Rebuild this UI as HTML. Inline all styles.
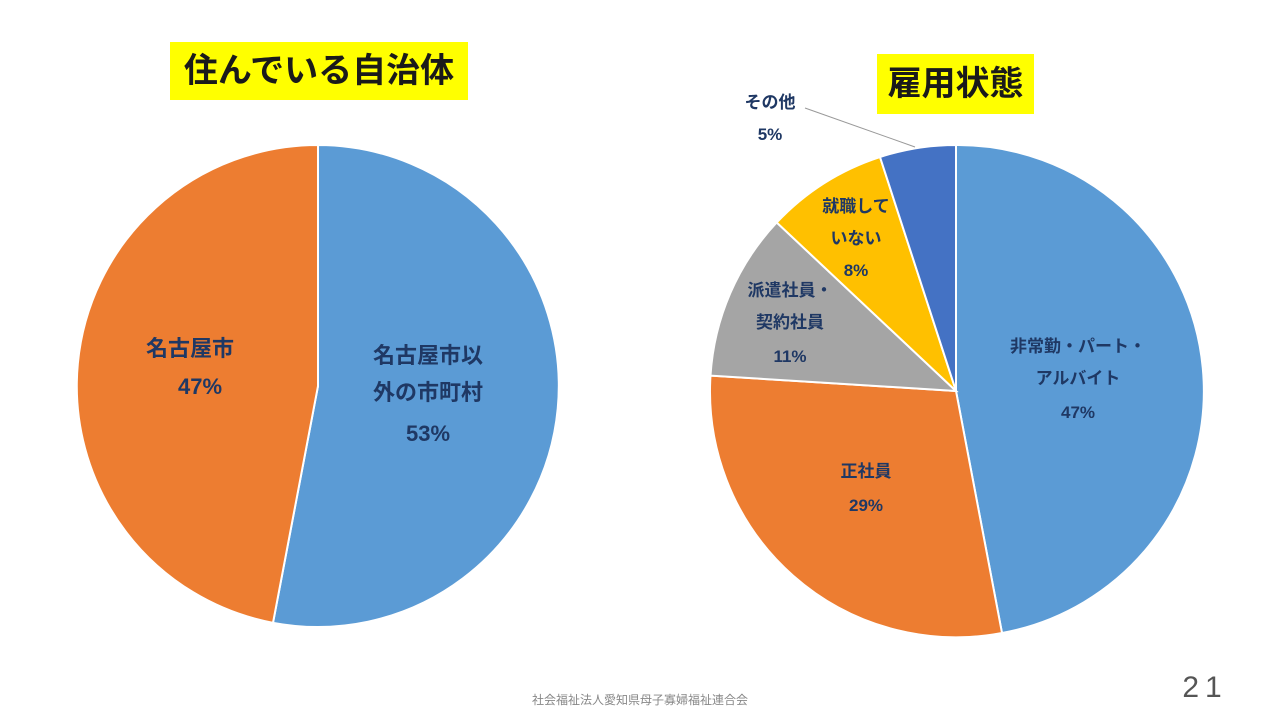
<!DOCTYPE html>
<html><head><meta charset="utf-8"><style>
html,body{margin:0;padding:0;background:#fff;}
body{width:1280px;height:720px;position:relative;overflow:hidden;font-family:"Liberation Sans","Noto Sans CJK JP",sans-serif;}
.t{position:absolute;background:#ffff00;color:#1a1a1a;font-weight:bold;font-size:34px;text-align:center;line-height:58px;white-space:nowrap;}
</style></head><body>
<div class="t" style="left:170px;top:42px;width:298px;height:58px;">住んでいる自治体</div>
<div class="t" style="left:877px;top:54px;width:157px;height:60px;line-height:60px;">雇用状態</div>
<svg width="1280" height="720" style="position:absolute;left:0;top:0" font-family="Liberation Sans, Noto Sans CJK JP, sans-serif" font-weight="bold" fill="#1f3864">
<g stroke="#fff" stroke-width="2">
<path d="M318,386 L318,145 A241,241 0 1 1 273,622.8 Z" fill="#5b9bd5"/>
<path d="M318,386 L273,622.8 A241,241 0 0 1 318,145 Z" fill="#ed7d31"/>
<path d="M956,391 L956,145 A246,246 0 0 1 1002,633 Z" fill="#5b9bd5"/>
<path d="M956,391 L1002,633 A246,246 0 0 1 710.5,375.6 Z" fill="#ed7d31"/>
<path d="M956,391 L710.5,375.6 A246,246 0 0 1 776.7,222.5 Z" fill="#a5a5a5"/>
<path d="M956,391 L776.7,222.5 A246,246 0 0 1 880,157 Z" fill="#ffc000"/>
<path d="M956,391 L880,157 A246,246 0 0 1 956,145 Z" fill="#4472c4"/>
</g>
<line x1="805" y1="108" x2="915" y2="147" stroke="#999" stroke-width="1"/>
<g font-size="22" text-anchor="middle">
<text x="190" y="356">名古屋市</text><text x="200" y="394">47%</text>
<text x="428" y="363">名古屋市以</text><text x="428" y="400">外の市町村</text><text x="428" y="441">53%</text>
</g>
<g font-size="17" text-anchor="middle">
<text x="770" y="108">その他</text><text x="770" y="140">5%</text>
<text x="856" y="212">就職して</text><text x="856" y="244">いない</text><text x="856" y="276">8%</text>
<text x="790" y="296">派遣社員・</text><text x="790" y="328">契約社員</text><text x="790" y="362">11%</text>
<text x="1078" y="352">非常勤・パート・</text><text x="1078" y="384">アルバイト</text><text x="1078" y="418">47%</text>
<text x="866" y="477">正社員</text><text x="866" y="511">29%</text>
</g>
<text x="640" y="704" font-size="12" font-weight="normal" fill="#888" text-anchor="middle">社会福祉法人愛知県母子寡婦福祉連合会</text>
<text x="1205" y="697" font-size="30" font-weight="normal" fill="#555" text-anchor="middle" letter-spacing="6">21</text>
</svg>
</body></html>
